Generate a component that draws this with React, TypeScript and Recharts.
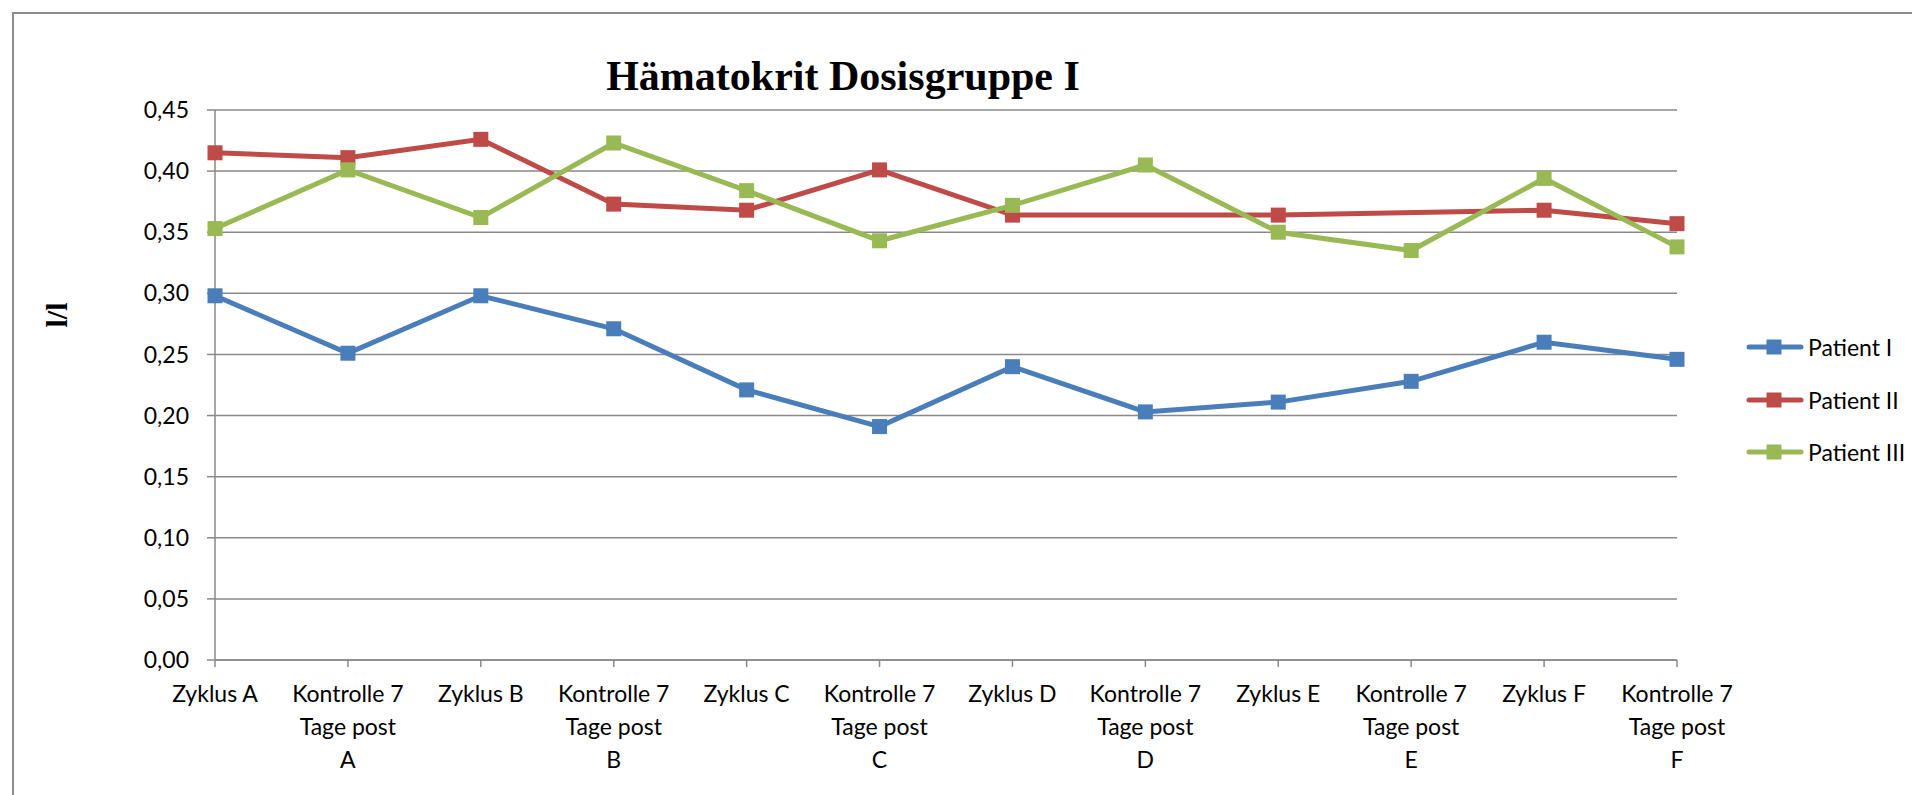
import React from "react"
import { CartesianGrid, Line, LineChart, XAxis, YAxis } from "recharts"

const categories = [
  "Zyklus A",
  "Kontrolle 7\nTage post\nA",
  "Zyklus B",
  "Kontrolle 7\nTage post\nB",
  "Zyklus C",
  "Kontrolle 7\nTage post\nC",
  "Zyklus D",
  "Kontrolle 7\nTage post\nD",
  "Zyklus E",
  "Kontrolle 7\nTage post\nE",
  "Zyklus F",
  "Kontrolle 7\nTage post\nF",
]

const patientI = [0.298, 0.251, 0.298, 0.271, 0.221, 0.191, 0.24, 0.203, 0.211, 0.228, 0.26, 0.246]
const patientII = [0.415, 0.411, 0.426, 0.373, 0.368, 0.401, 0.364, null, 0.364, null, 0.368, 0.357]
const patientIII = [0.353, 0.401, 0.362, 0.423, 0.384, 0.343, 0.372, 0.405, 0.35, 0.335, 0.394, 0.338]

const yTicks = [0, 0.05, 0.1, 0.15, 0.2, 0.25, 0.3, 0.35, 0.4, 0.45]

const series = [
  { key: "p1", name: "Patient I", color: "#4a7ebb" },
  { key: "p2", name: "Patient II", color: "#be4b48" },
  { key: "p3", name: "Patient III", color: "#98b954" },
]

const data = categories.map((c, i) => ({
  cat: c,
  p1: patientI[i],
  p2: patientII[i],
  p3: patientIII[i],
}))

const labelFont = "Lato, 'Open Sans', sans-serif"
const grey = "#898989"

function CategoryTick(props: any) {
  const { x, y, payload } = props
  const lines = String(payload.value).split("\n")
  return (
    <text x={x} y={y + 2} textAnchor="middle" fill="#000" fontFamily={labelFont} fontSize={23}>
      {lines.map((l, i) => (
        <tspan key={i} x={x} dy={33}>
          {l}
        </tspan>
      ))}
    </text>
  )
}

function SquareDot(props: any) {
  const { cx, cy, stroke, value } = props
  if (value == null || cx == null || cy == null) return null
  return <rect x={cx - 7.5} y={cy - 7.5} width={15} height={15} fill={stroke} />
}

function LegendBox() {
  return (
    <div style={{ fontFamily: labelFont, fontSize: 23, color: "#000" }}>
      {series.map((s) => (
        <div key={s.key} style={{ display: "flex", alignItems: "center", height: 52.5 }}>
          <svg width={58} height={16} style={{ marginRight: 4 }}>
            <line x1={3} y1={8} x2={55} y2={8} stroke={s.color} strokeWidth={5} strokeLinecap="round" />
            <rect x={20.5} y={0.5} width={15} height={15} fill={s.color} />
          </svg>
          <span>{s.name}</span>
        </div>
      ))}
    </div>
  )
}

export default function App() {
  return (
    <div style={{ position: "absolute", left: 0, top: 0, width: 1912, height: 795, overflow: "hidden", background: "#fff" }}>
      <div
        style={{
          position: "absolute",
          left: 12,
          top: 12,
          width: 2000,
          height: 900,
          border: "2px solid #8c8c8c",
        }}
      />
      <div
        style={{
          position: "absolute",
          left: 0,
          width: 1686,
          top: 50,
          textAlign: "center",
          fontFamily: "'Liberation Serif', 'Times New Roman', serif",
          fontWeight: "bold",
          fontSize: 42,
          lineHeight: "52px",
        }}
      >
        Hämatokrit Dosisgruppe I
      </div>
      <div
        style={{
          position: "absolute",
          left: 57,
          top: 315,
          transform: "translate(-50%, -50%) rotate(-90deg)",
          fontFamily: "'Liberation Serif', 'Times New Roman', serif",
          fontWeight: "bold",
          fontSize: 30,
        }}
      >
        l/l
      </div>
      <div style={{ position: "absolute", left: 0, top: 0 }}>
        <LineChart width={1912} height={795} data={data} margin={{ top: 110, right: 235, bottom: 0, left: 0 }}>
          <CartesianGrid vertical={false} stroke={grey} strokeWidth={1.5} />
          <XAxis
            dataKey="cat"
            interval={0}
            height={135}
            tick={<CategoryTick />}
            tickSize={7}
            tickMargin={0}
            stroke={grey}
            strokeWidth={1.5}
            tickLine={{ stroke: grey, strokeWidth: 1.5 }}
          />
          <YAxis
            width={215}
            domain={[0, 0.45]}
            ticks={yTicks}
            tickFormatter={(v: number) => v.toFixed(2).replace(".", ",")}
            tickSize={8}
            tickMargin={18}
            tick={{ fill: "#000", fontFamily: labelFont, fontSize: 23 }}
            stroke={grey}
            strokeWidth={1.5}
            tickLine={{ stroke: grey, strokeWidth: 1.5 }}
          />
          {series.map((s) => (
            <Line
              key={s.key}
              dataKey={s.key}
              name={s.name}
              type="linear"
              stroke={s.color}
              strokeWidth={5}
              dot={<SquareDot />}
              activeDot={false}
              connectNulls
              isAnimationActive={false}
            />
          ))}
        </LineChart>
      </div>
      <div style={{ position: "absolute", left: 1746, top: 321 }}>
        <LegendBox />
      </div>
    </div>
  )
}
